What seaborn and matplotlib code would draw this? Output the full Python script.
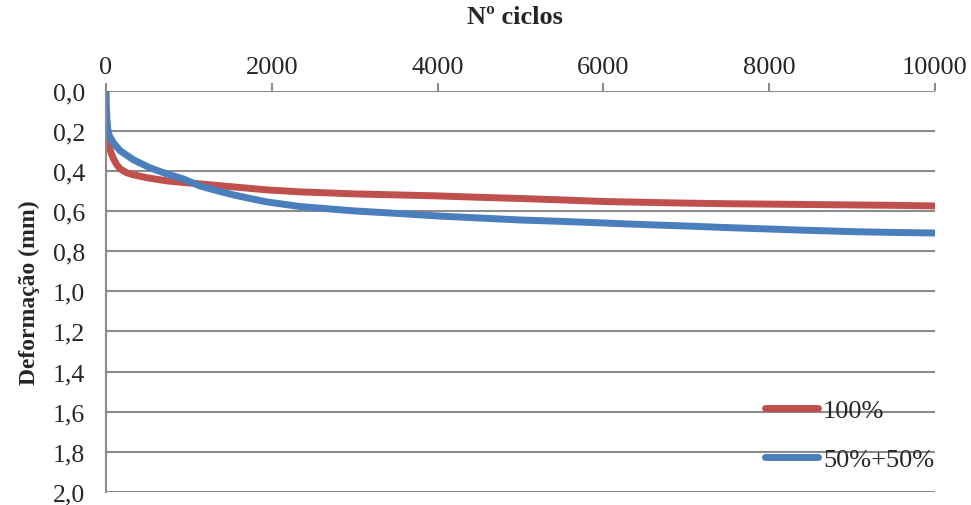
import matplotlib
matplotlib.use("Agg")
import matplotlib.pyplot as plt
import seaborn as sns
import pandas as pd
from matplotlib.ticker import FuncFormatter, FixedLocator
from matplotlib.lines import Line2D

# ---- data ----
red_label = "100%"
red_cycles = [0, 30, 60, 90, 130, 170, 250, 330, 500, 730, 930, 1130, 1530, 1940,
              2340, 3000, 3500, 4000, 4500, 5000, 5500, 6000, 6500, 7000, 7500,
              8000, 8500, 9000, 9500, 10000]
red_values = [0.21, 0.26, 0.31, 0.34, 0.37, 0.39, 0.41, 0.42, 0.435, 0.45, 0.458,
              0.465, 0.48, 0.495, 0.505, 0.515, 0.52, 0.525, 0.532, 0.538, 0.545,
              0.553, 0.557, 0.561, 0.564, 0.566, 0.568, 0.570, 0.572, 0.575]

blue_label = "50%+50%"
blue_cycles = [0, 5, 12, 20, 40, 88, 170, 330, 530, 730, 930, 1130, 1330, 1536,
               1740, 1940, 2340, 3000, 3500, 4000, 4500, 5000, 5500, 6000, 6500,
               7000, 7500, 8000, 8500, 9000, 9500, 10000]
blue_values = [0.0, 0.09, 0.15, 0.19, 0.225, 0.26, 0.30, 0.345, 0.385, 0.415, 0.44,
               0.475, 0.498, 0.52, 0.538, 0.555, 0.578, 0.60, 0.612, 0.625, 0.635,
               0.645, 0.652, 0.66, 0.668, 0.675, 0.683, 0.69, 0.697, 0.703, 0.707,
               0.71]

x_ticks = [0, 2000, 4000, 6000, 8000, 10000]
y_ticks = [0.0, 0.2, 0.4, 0.6, 0.8, 1.0, 1.2, 1.4, 1.6, 1.8, 2.0]
x_title = "Nº ciclos"
y_title = "Deformação (mm)"

df = pd.DataFrame({
    "ciclos": red_cycles + blue_cycles,
    "def": red_values + blue_values,
    "serie": [red_label] * len(red_cycles) + [blue_label] * len(blue_cycles),
})

red_c = "#C0504D"
blue_c = "#4A7EBD"

sns.set_style("white")
plt.rcParams["font.family"] = ["Liberation Serif", "DejaVu Serif"]

fig = plt.figure(figsize=(9.71, 5.06), dpi=100)
ax = fig.add_axes([106 / 971, 1 - 493 / 506, (935 - 106) / 971, (493 - 91.5) / 506])

sns.lineplot(data=df, x="ciclos", y="def", hue="serie",
             palette={red_label: red_c, blue_label: blue_c},
             linewidth=5, ax=ax, legend=False, sort=False)

ax.set_xlim(0, 10000)
ax.set_ylim(2.0, 0.0)

grid_c = "#8C8C8C"
ax.xaxis.tick_top()
ax.xaxis.set_label_position("top")
ax.xaxis.set_major_locator(FixedLocator(x_ticks))
ax.yaxis.set_major_locator(FixedLocator(y_ticks))
ax.yaxis.set_major_formatter(FuncFormatter(lambda v, p: f"{v:.1f}".replace(".", ",")))
ax.xaxis.set_major_formatter(FuncFormatter(lambda v, p: f"{int(v)}"))

for yv in y_ticks:
    ax.axhline(yv, color=grid_c, linewidth=1.5, zorder=0)

for s in ["right", "bottom", "top"]:
    ax.spines[s].set_visible(False)
ax.spines["left"].set_color(grid_c)
ax.spines["left"].set_linewidth(1.5)

ax.tick_params(axis="x", direction="out", length=6, width=1.5, color=grid_c,
               labelsize=19, pad=3, top=True, bottom=False)
ax.tick_params(axis="y", direction="out", length=6, width=1.5, color=grid_c,
               labelsize=18.5, pad=9)

ax.set_xlabel(x_title, fontsize=19, fontweight="bold", labelpad=4)
ax.set_ylabel(y_title, fontsize=17, fontweight="bold", labelpad=9)
ax.xaxis.set_label_coords(0.495, 1.0, transform=ax.transAxes)
ax.xaxis.label.set_va("bottom")
ax.xaxis.label.set_y(1.0)
ax.xaxis.set_label_coords(0.4935, 1.155)

handles = [Line2D([], [], color=red_c, linewidth=5, solid_capstyle="round"),
           Line2D([], [], color=blue_c, linewidth=5, solid_capstyle="round")]
fig.legend(handles, [red_label, blue_label], loc="upper left",
           bbox_to_anchor=(765 / 971, 1 - 400 / 506), frameon=False,
           fontsize=19, handlelength=2.0, handletextpad=0.2, labelspacing=0.95,
           borderaxespad=0, borderpad=0)

fig.savefig("out.png", dpi=100)
